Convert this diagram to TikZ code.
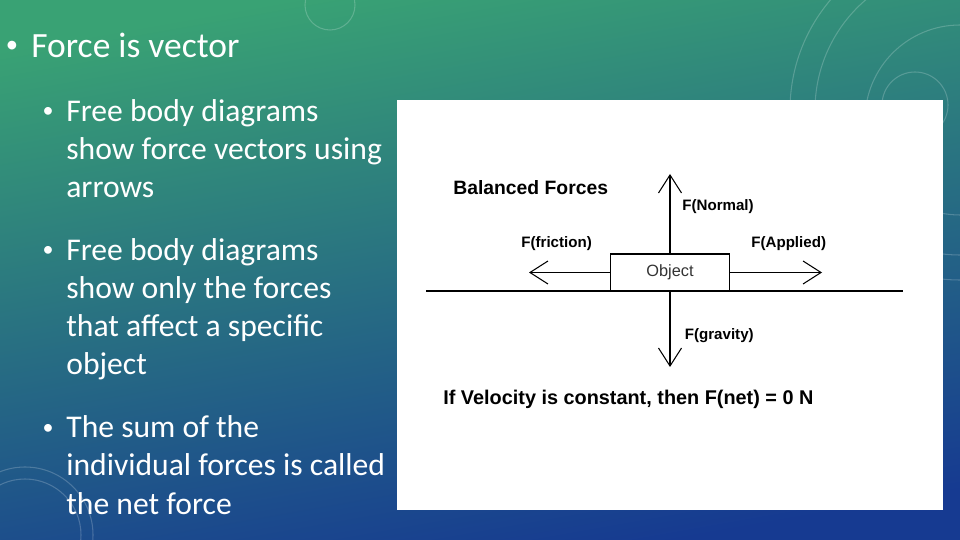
\documentclass[tikz,border=0pt]{standalone}
\usepackage{fontspec}
\setmainfont{Carlito}
\newfontfamily\diagfont{Liberation Sans}
\usetikzlibrary{arrows.meta,positioning}

\definecolor{slidegreen}{RGB}{57,162,116}
\definecolor{slideteal}{RGB}{38,125,126}
\definecolor{slideblue}{RGB}{22,58,145}

\begin{document}
\begin{tikzpicture}[x=0.02cm, y=-0.02cm]
  \tikzset{
    mainitem/.style={anchor=base west, inner sep=0pt, text=white, font=\fontsize{20.2}{24}\selectfont},
    subitem/.style={anchor=base west, inner sep=0pt, text=white, align=left, font=\fontsize{18}{21.8}\selectfont},
    dot/.style={anchor=center, inner sep=0pt, text=white, font=\fontsize{12.5}{14}\selectfont},
    lbl/.style={anchor=west, inner sep=0pt, font=\diagfont\bfseries\fontsize{8.6}{10}\selectfont},
    objbox/.style={draw, line width=0.6pt, minimum width=2.38cm, minimum height=0.74cm, inner sep=0pt, text=black!80, font=\diagfont\fontsize{9.3}{11}\selectfont},
    force/.style={-{Straight Barb[length=3.6mm, width=4.6mm]}, line width=0.6pt},
    deco/.style={white, opacity=0.2, line width=0.6pt}
  }
  % slide background
  \useasboundingbox (0,0) rectangle (960,540);
  \shade[top color=slidegreen, middle color=slideteal, bottom color=slideblue, shading angle=10] (0,0) rectangle (960,540);
  \begin{scope}
    \clip (0,0) rectangle (960,540);
    \draw[deco] (960,110) circle[radius=170];
    \draw[deco] (960,110) circle[radius=145];
    \draw[deco] (960,120) circle[radius=95];
    \draw[deco] (915,105) circle[radius=33];
    \draw[deco] (330,5) circle[radius=25];
    \draw[deco] (25,535) circle[radius=68];
    \draw[deco] (25,535) circle[radius=56];
  \end{scope}

  % bullet text (base = last line)
  \node[dot, font=\fontsize{14}{16}\selectfont] (dot0) at (12,47) {•};
  \node[mainitem] (vector) at (31,58) {Force is vector};
  \node[dot] (dot1) at (48,112) {•};
  \node[subitem] (arrows) at (66,198) {Free body diagrams\\show force vectors using\\arrows};
  \node[dot] (dot2) at (48,251) {•};
  \node[subitem] (specific) at (66,375) {Free body diagrams\\show only the forces\\that affect a specific\\object};
  \node[dot] (dot3) at (48,429) {•};
  \node[subitem] (netforce) at (66,514) {The sum of the\\individual forces is called\\the net force};

  % free body diagram panel
  \fill[white] (397,100) rectangle (943,510);
  \node[lbl, font=\diagfont\bfseries\fontsize{11}{12}\selectfont] (title) at (453,188) {Balanced Forces};
  \node[objbox] (obj) at (670,272.5) {Object};
  \coordinate (ntip) at (670,174);
  \coordinate (gtip) at (670,367);
  \coordinate (ftip) at (529,272.5);
  \coordinate (atip) at (822,272.5);
  \coordinate (gl) at (426,291);
  \coordinate (gr) at (903,291);
  \draw[line width=0.6pt] (gl) -- (gr);
  \draw[force] (obj.north) -- (ntip);
  \draw[force] (obj.south) -- (gtip);
  \draw[force] (obj.west) -- (ftip);
  \draw[force] (obj.east) -- (atip);
  \node[lbl] (normal) at (682,206.5) {F(Normal)};
  \node[lbl] (friction) at (521,244) {F(friction)};
  \node[lbl] (applied) at (751,244) {F(Applied)};
  \node[lbl] (gravity) at (684.5,336) {F(gravity)};
  \node[lbl, font=\diagfont\bfseries\fontsize{11.3}{12}\selectfont] (net) at (443,399) {If Velocity is constant, then F(net) = 0 N};
\end{tikzpicture}
\end{document}
